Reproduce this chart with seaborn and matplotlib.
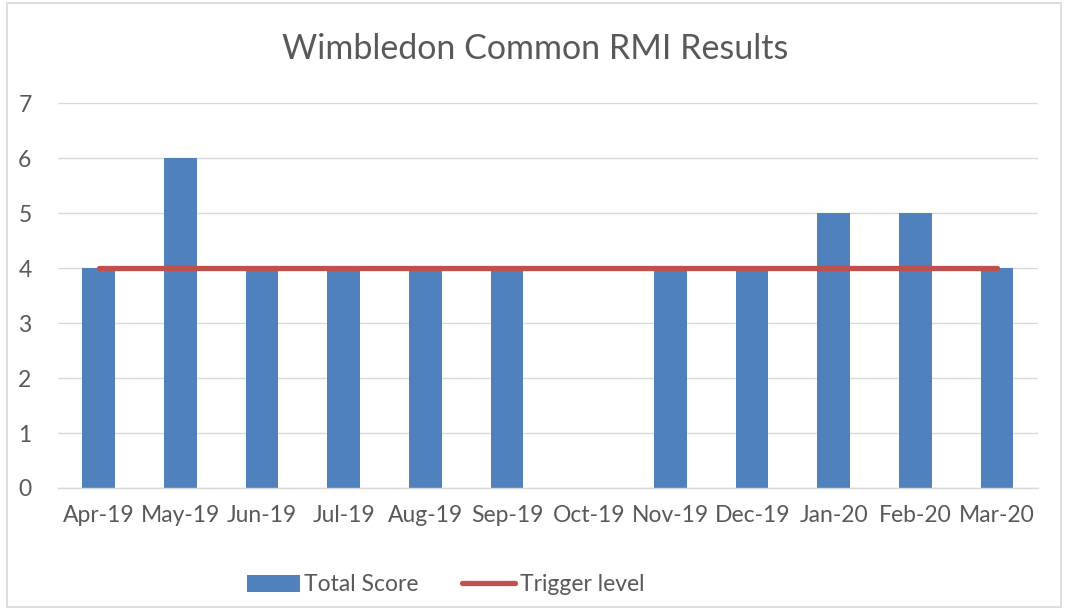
import matplotlib
matplotlib.use("Agg")
import matplotlib.pyplot as plt
import numpy as np
import pandas as pd
import seaborn as sns
from matplotlib.lines import Line2D
from matplotlib.patches import Patch, Rectangle

months = ["Apr-19", "May-19", "Jun-19", "Jul-19", "Aug-19", "Sep-19",
          "Oct-19", "Nov-19", "Dec-19", "Jan-20", "Feb-20", "Mar-20"]
total_score = [4, 6, 4, 4, 4, 4, np.nan, 4, 4, 5, 5, 4]
trigger_level = [4] * 12

bar_color = "#4F81BD"
line_color = "#C0504D"
text_color = "#595959"
grid_color = "#D9D9D9"

df = pd.DataFrame({"month": months, "score": total_score, "trigger": trigger_level})

sns.set_style("white")
plt.rcParams["font.family"] = ["Lato", "DejaVu Sans"]

fig = plt.figure(figsize=(10.66, 6.10), dpi=100)
ax = fig.add_axes([0.0544, 0.2, 0.9193, 0.6311])

sns.barplot(data=df, x="month", y="score", order=months, color=bar_color,
            saturation=1, width=0.4, linewidth=0, ax=ax, zorder=2)
sns.lineplot(x=np.arange(len(months)), y=df["trigger"], color=line_color,
             linewidth=3.8, solid_capstyle="round", ax=ax, zorder=3)

ax.set_xlim(-0.5, len(months) - 0.5)
ax.set_ylim(0, 7)
ax.set_yticks(range(0, 8))
ax.yaxis.grid(True, color=grid_color, linewidth=1)
ax.set_axisbelow(True)
for side in ["top", "right", "left"]:
    ax.spines[side].set_visible(False)
ax.spines["bottom"].set_color(grid_color)
ax.spines["bottom"].set_linewidth(1)

ax.set_xticks(np.arange(-0.5, len(months), 1), minor=False)
ax.set_xticklabels([])
ax.set_xticks(np.arange(len(months)), minor=True)
ax.set_xticklabels(months, minor=True)
ax.tick_params(axis="x", which="major", length=6, color=grid_color, width=1)
ax.tick_params(axis="x", which="minor", length=0, pad=12, labelsize=16.5, labelcolor=text_color)
ax.tick_params(axis="y", length=0, pad=19, labelsize=16.5, labelcolor=text_color)
ax.set_xlabel("")
ax.set_ylabel("")

fig.text(0.502, 0.92, "Wimbledon Common RMI Results", ha="center", va="center",
         fontsize=24.5, color=text_color)

handles = [Patch(facecolor=bar_color, edgecolor="none"),
           Line2D([0], [0], color=line_color, linewidth=3.8, solid_capstyle="round")]
fig.legend(handles, ["Total Score", "Trigger level"], loc="center",
           bbox_to_anchor=(0.418, 0.041), ncol=2, frameon=False, fontsize=16.5,
           labelcolor=text_color, handlelength=2.3, handleheight=0.75,
           handletextpad=0.2, columnspacing=1.9)

fig.add_artist(Rectangle((0.007, 0.005), 0.988, 0.99, transform=fig.transFigure,
                         fill=False, edgecolor=grid_color, linewidth=1.2))

fig.savefig("out.png", dpi=100)
